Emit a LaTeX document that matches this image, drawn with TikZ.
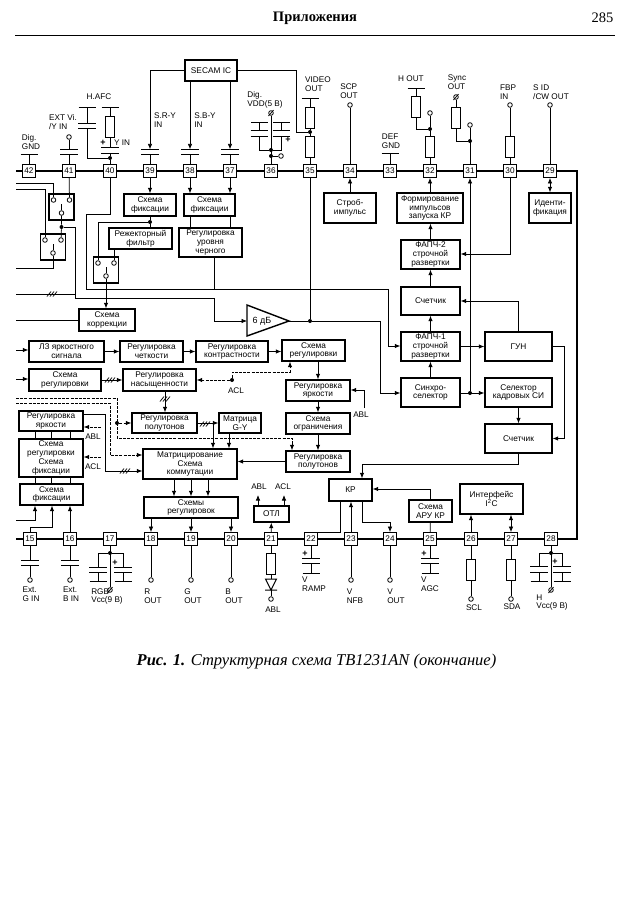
\documentclass[tikz,border=0pt]{standalone}
\usepackage{fontspec}
\setmainfont{Liberation Sans}
\newfontfamily\headfont{Liberation Serif}
\usetikzlibrary{arrows.meta}

% small parts: pairs of plates and bars sit on the wires
\newcommand\capv[3]{\node[capgap] (#1) at (#2,#3) {};
	\draw[plate] (#1.north west) -- (#1.north east) (#1.south west) -- (#1.south east);}
\newcommand\barh[3]{\coordinate (#1) at (#2,#3);
	\draw[plate] (#2-8.5,#3) -- (#2+8.5,#3);}
\newcommand\slashed[3]{\node[oc] (#1) at (#2,#3) {};
	\draw (#2-2.5,#3+3) -- (#2+2.5,#3-3);}
\newcommand\plusm[2]{\node[lbl,font=\fontsize{9}{9}\bfseries] at (#1,#2) {+};}
\newcommand\ticks[2]{\draw (#1-5,#2+2.5) -- (#1-1,#2-2.5) (#1-2,#2+2.5) -- (#1+2,#2-2.5) (#1+1,#2+2.5) -- (#1+5,#2-2.5);}
\newcommand\switchbox[3]{\node[blk,minimum width=25,minimum height=26] (#1) at (#2,#3) {};
	\node[oc] (#1l) at (#2-8,#3-7) {}; \node[oc] (#1r) at (#2+8,#3-7) {}; \node[oc] (#1m) at (#2,#3+6) {};
	\draw (#1m) -- ++(0,-9);}

\tikzset{
	blk/.style={draw,line width=1.4pt,inner sep=0pt,align=center,font=\fontsize{8.3}{8.9}\selectfont},
	pin/.style={draw,line width=.8pt,fill=white,inner sep=0pt,minimum size=13,font=\fontsize{8.2}{8}\selectfont},
	res/.style={draw,line width=.9pt,inner sep=0pt,minimum width=9,minimum height=21},
	capgap/.style={inner sep=0pt,minimum width=17,minimum height=4.5},
	plate/.style={line width=1pt},
	oc/.style={circle,draw,fill=white,inner sep=0pt,minimum size=4.6,line width=.8pt},
	jd/.style={circle,fill=black,inner sep=0pt,minimum size=4},
	lbl/.style={inner sep=0pt,align=left,font=\fontsize{8.2}{8.9}\selectfont},
	dsh/.style={dash pattern=on 3pt off 1.2pt,line width=.8pt},
}

\begin{document}
\begin{tikzpicture}[x=1pt,y=-1pt,line width=.75pt,>={Latex[length=5.5pt,width=4.5pt]}]
	\useasboundingbox (0,0) rectangle (628,919);

	% page head
	\node[font=\headfont\fontsize{14.5}{15}\bfseries\selectfont] (head) at (315,18) {Приложения};
	\node[font=\headfont\fontsize{14.5}{15}\selectfont] (pageno) at (602.5,18) {285};
	\coordinate (ruleL) at (15,35); \coordinate (ruleR) at (615,35);
	\draw[line width=1pt] (ruleL) -- (ruleR);

	% the two rows of pins, joined by the bus
	\coordinate (busTL) at (16,171); \coordinate (busTR) at (577,171);
	\coordinate (busBL) at (16,539); \coordinate (busBR) at (577,539);
	\draw[line width=1.4pt] (busTL) -- (busTR) -- (busBR) -- (busBL);
	\foreach \n/\x in {42/29,41/69,40/110,39/150,38/190,37/230,36/271,35/310,34/350,33/390,32/430,31/470,30/510,29/550}
		\node[pin] (p\n) at (\x,171) {\n};
	\foreach \n/\x in {15/30,16/70,17/110,18/151,19/191,20/231,21/271,22/311,23/351,24/390,25/430,26/471,27/511,28/551}
		\node[pin] (p\n) at (\x,539) {\n};

	% blocks, upper half
	\node[blk,minimum width=52,minimum height=21] (secam) at (211,70.5) {SECAM IC};
	\node[blk,minimum width=52,minimum height=22] (fixr) at (150,205) {Схема\\фиксации};
	\node[blk,minimum width=51,minimum height=22] (fixb) at (209.5,205) {Схема\\фиксации};
	\node[blk,minimum width=63,minimum height=21] (notch) at (140.5,238.5) {Режекторный\\фильтр};
	\node[blk,minimum width=63,minimum height=29] (black) at (210.5,242.5) {Регулировка\\уровня\\черного};
	\node[blk,minimum width=56,minimum height=22] (corr) at (107,320) {Схема\\коррекции};
	\node[blk,minimum width=52,minimum height=30] (strobe) at (350,208) {Строб-\\импульс};
	\node[blk,minimum width=66,minimum height=30] (former) at (430,208) {Формирование\\импульсов\\запуска КР};
	\node[blk,minimum width=42,minimum height=30] (ident) at (550,208) {Иденти-\\фикация};
	\node[blk,minimum width=59,minimum height=29] (pll2) at (430.5,254.5) {ФАПЧ-2\\строчной\\развертки};
	\node[blk,minimum width=59,minimum height=28] (cnth) at (430.5,301) {Счетчик};
	\node[blk,minimum width=59,minimum height=29] (pll1) at (430.5,346.5) {ФАПЧ-1\\строчной\\развертки};
	\node[blk,minimum width=67,minimum height=29] (vco) at (518.5,346.5) {ГУН};
	\node[blk,minimum width=59,minimum height=29] (sync) at (430.5,392.5) {Синхро-\\селектор};
	\node[blk,minimum width=67,minimum height=29] (vsel) at (518.5,392.5) {Селектор\\кадровых СИ};
	\node[blk,minimum width=67,minimum height=29] (cntv) at (518.5,438.5) {Счетчик};
	\draw[line width=1.4pt] (247,305) -- (289,321) -- (247,336) -- cycle;
	\coordinate (ampIn) at (247,321); \coordinate (ampOut) at (289,321);
	\node[font=\fontsize{9}{9}\selectfont] (ampLbl) at (262,321) {6 дБ};

	% blocks, luminance and matrix part
	\node[blk,minimum width=75,minimum height=21] (delay) at (66.5,351.5) {ЛЗ яркостного\\сигнала};
	\node[blk,minimum width=63,minimum height=21] (sharp) at (151.5,351.5) {Регулировка\\четкости};
	\node[blk,minimum width=72,minimum height=21] (contr) at (232,351.5) {Регулировка\\контрастности};
	\node[blk,minimum width=63,minimum height=21] (adj) at (313.5,350.5) {Схема\\регулировки};
	\node[blk,minimum width=72,minimum height=22] (adjl) at (65,380) {Схема\\регулировки};
	\node[blk,minimum width=73,minimum height=22] (sat) at (159.5,380) {Регулировка\\насыщенности};
	\node[blk,minimum width=64,minimum height=21] (bright) at (318,390.5) {Регулировка\\яркости};
	\node[blk,minimum width=64,minimum height=21] (limit) at (318,423.5) {Схема\\ограничения};
	\node[blk,minimum width=64,minimum height=21] (tone) at (318,461.5) {Регулировка\\полутонов};
	\node[blk,minimum width=65,minimum height=20] (tonem) at (164.5,423) {Регулировка\\полутонов};
	\node[blk,minimum width=42,minimum height=20] (gy) at (240,423) {Матрица\\G-Y};
	\node[blk,minimum width=94,minimum height=30] (matr) at (190,464) {Матрицирование\\Схема\\коммутации};
	\node[blk,minimum width=94,minimum height=21] (outs) at (191,507.5) {Схемы\\регулировок};
	\node[blk,minimum width=64,minimum height=20] (extb) at (51,421) {Регулировка\\яркости};
	\node[blk,minimum width=64,minimum height=38] (extc) at (51,458) {Схема\\регулировки\\Схема\\фиксации};
	\node[blk,minimum width=63,minimum height=21] (extf) at (51.5,494.5) {Схема\\фиксации};
	\node[blk,minimum width=35,minimum height=16] (otl) at (271.5,514) {ОТЛ};
	\node[blk,minimum width=43,minimum height=22] (kr) at (350.5,490) {КР};
	\node[blk,minimum width=43,minimum height=22] (agc) at (430.5,511) {Схема\\АРУ КР};
	\node[blk,minimum width=63,minimum height=30] (iface) at (491.5,499) {Интерфейс\\I$^{\mathrm{2}}$C};

	% input switches
	\switchbox{swa}{61.5}{207}
	\switchbox{swb}{53}{247}
	\switchbox{swc}{106}{270}

	% top row: outside parts
	\barh{b42}{29}{154} \draw (p42) -- (b42);
	\node[lbl] (t42) at (31,142) {Dig.\\GND};
	\capv{c41}{69}{152} \node[oc] (o41) at (69,137) {};
	\draw (p41) -- (c41.south) (c41.north) -- (o41);
	\node[lbl] (t41) at (63,122) {EXT Vi.\\/Y IN};
	\capv{c40}{110}{150.5} \node[res] (r40) at (110,126.5) {};
	\barh{b40}{110}{107} \draw (b40) -- (r40) -- (c40.north);
	\node[jd] (d40) at (110,158) {};
	\draw (p40) -- (d40) -- (c40.south);
	\capv{cafc}{87}{126} \barh{bafc}{87}{107}
	\draw (bafc) -- (cafc.north) (cafc.south) |- (d40);
	\node[lbl] (tafc) at (99,97) {H.AFC};
	\node[lbl] (ty) at (122,143) {Y IN}; \plusm{103}{143}
	\capv{c39}{150}{152} \capv{c38}{190}{152} \capv{c37}{230}{152}
	\foreach \n in {39,38,37} \draw (p\n) -- (c\n.south);
	\node[lbl] (tsr) at (165,120) {S.R-Y\\IN};
	\node[lbl] (tsb) at (205,120) {S.B-Y\\IN};
	\capv{cda}{259.5}{133.5} \capv{cdb}{281.5}{133.5}
	\barh{bda}{259.5}{122} \barh{bdb}{281.5}{122}
	\node[jd] (d36) at (271,150) {}; \node[jd] (e36) at (271,156) {};
	\slashed{o36}{271}{113}
	\node[oc] (q36) at (281,156) {};
	\draw (o36) -- (p36) (e36) -- (q36);
	\draw (bda) -- (cda.north) (cda.south) |- (d36) -| (cdb.south) (cdb.north) -- (bdb);
	\plusm{288}{140}
	\node[lbl] (t36) at (265,99.5) {Dig.\\VDD(5 В)};
	\node[res] (r35a) at (310,117.5) {}; \node[res] (r35b) at (310,147) {};
	\barh{b35}{310}{98}
	\node[jd] (d35) at (310,132) {};
	\draw (b35) -- (r35a) -- (d35) -- (r35b) -- (p35);
	\node[lbl] (t35) at (318,84) {VIDEO\\OUT};
	\node[oc] (o34) at (350,105) {}; \draw (o34) -- (p34);
	\node[lbl] (t34) at (349,91) {SCP\\OUT};
	\barh{b33}{390}{153} \draw (b33) -- (p33);
	\node[lbl] (t33) at (391,141) {DEF\\GND};
	\node[res] (r32a) at (416,106.5) {}; \node[res] (r32b) at (430,147) {};
	\barh{b32}{416}{88} \node[oc] (o32) at (430,113) {}; \node[jd] (d32) at (430,129) {};
	\draw (o32) -- (d32) -- (r32b) -- (p32) (d32) -| (r32a) (r32a) -- (b32);
	\node[lbl] (t32) at (411,79) {H OUT};
	\slashed{o31}{456}{97} \node[res] (r31) at (456,117.5) {};
	\node[oc] (q31) at (470,125) {}; \node[jd] (d31) at (470,141) {};
	\draw (o31) -- (r31) (r31) |- (d31) (q31) -- (p31);
	\node[lbl] (t31) at (457,82.5) {Sync\\OUT};
	\node[oc] (o30) at (510,105) {}; \node[res] (r30) at (510,147) {};
	\draw (o30) -- (r30) -- (p30);
	\node[lbl] (t30) at (508,92.5) {FBP\\IN};
	\node[oc] (o29) at (550,105) {}; \draw (o29) -- (p29);
	\node[lbl] (t29) at (551,92.5) {S ID\\/CW OUT};

	% bottom row: outside parts
	\foreach \n/\x in {15/30,16/70} {
		\capv{c\n}{\x}{563} \node[oc] (o\n) at (\x,580) {};
		\draw (p\n) -- (c\n.north) (c\n.south) -- (o\n);
	}
	\node[lbl] (t15) at (31,594.5) {Ext.\\G IN};
	\node[lbl] (t16) at (71,594.5) {Ext.\\B IN};
	\capv{ca17}{98}{570} \capv{cb17}{123}{570}
	\barh{ba17}{98}{581} \barh{bb17}{123}{581}
	\node[jd] (d17) at (110,553) {}; \slashed{o17}{110}{590}
	\draw (p17) -- (o17) (ca17.north) |- (d17) -| (cb17.north);
	\draw (ca17.south) -- (ba17) (cb17.south) -- (bb17);
	\plusm{115}{563}
	\node[lbl] (t17) at (107,596.5) {RGB\\Vcc(9 В)};
	\foreach \n/\x in {18/151,19/191,20/231,23/351,24/390} {
		\node[oc] (o\n) at (\x,580) {};
		\draw (p\n) -- (o\n);
	}
	\node[lbl] (t18) at (153,596.5) {R\\OUT};
	\node[lbl] (t19) at (193,596.5) {G\\OUT};
	\node[lbl] (t20) at (234,596.5) {B\\OUT};
	\node[res] (r21) at (271,563.5) {};
	\node[oc] (o21) at (271,599) {};
	\coordinate (dtop) at (271,579); \coordinate (dbot) at (271,590);
	\draw (p21) -- (r21) -- (dtop) (dbot) -- (o21);
	\draw[plate] (265.5,579) -- (276.5,579) -- (271,590) -- cycle (265,590) -- (277,590);
	\node[lbl] (t21) at (273,610) {ABL};
	\foreach \n/\x in {22/311,25/430} {
		\capv{c\n}{\x}{561} \barh{b\n}{\x}{573}
		\draw (p\n) -- (c\n.north) (c\n.south) -- (b\n);
		\plusm{\x-6}{554}
	}
	\node[lbl] (t22) at (314,584.5) {V\\RAMP};
	\node[lbl] (t23) at (355,596.5) {V\\NFB};
	\node[lbl] (t24) at (396,596.5) {V\\OUT};
	\node[lbl] (t25) at (430,584.5) {V\\AGC};
	\foreach \n/\x in {26/471,27/511} {
		\node[res] (r\n) at (\x,569.5) {}; \node[oc] (o\n) at (\x,599) {};
		\draw (p\n) -- (r\n) -- (o\n);
	}
	\node[lbl] (t26) at (474,608) {SCL};
	\node[lbl] (t27) at (512,607) {SDA};
	\capv{ca28}{539}{569.5} \capv{cb28}{562}{569.5}
	\barh{ba28}{539}{581} \barh{bb28}{562}{581}
	\node[jd] (d28) at (551,553) {}; \slashed{o28}{551}{590}
	\draw (p28) -- (o28) (ca28.north) |- (d28) -| (cb28.north);
	\draw (ca28.south) -- (ba28) (cb28.south) -- (bb28);
	\plusm{555}{562}
	\node[lbl] (t28) at (552,602.5) {H\\Vcc(9 В)};

	% SECAM lines
	\draw[->] (secam.west) -| (c39.north);
	\draw[->] (secam.south -| c38) -- (c38.north);
	\draw[->] (secam.south -| c37) -- (c37.north);
	\draw (secam.east) -| (296,132) -- (d35);

	% clamps and switches
	\draw[->] (p39) -- (fixr);
	\draw[->] (p38) -- (fixb.north -| p38);
	\draw[->] (p37) -- (fixb.north -| p37);
	\draw (fixb.south -| p38) -- (black.north -| p38) (fixb.south -| p37) -- (black.north -| p37);
	\node[jd] (dfix) at (150,222) {};
	\draw (fixr.south) -- (dfix) -- (notch.north -| dfix);
	\draw (dfix) -| (swcl);
	\draw (swcr) -- (notch.south -| swcr);
	\draw[->] (swcm) -- (corr.north -| swcm);
	\coordinate (ina) at (16,183); \coordinate (inb) at (16,189); \coordinate (inc) at (16,268);
	\draw (ina) -| (swal);
	\draw (inb) -| (swbl);
	\draw (p41) -- (swar);
	\node[jd] (dsw) at (61.5,227) {};
	\draw (swam) -- (dsw) -- (swbr);
	\draw (swbm) |- (inc);
	\coordinate (amid) at (75,298);
	\coordinate (ind) at (16,294);
	\draw (ind) -- (75,294);
	\ticks{52}{294}
	\draw (dsw) -| (amid) -| (214,321);
	\draw[->] (214,321) -- (ampIn);
	\coordinate (line40) at (86,289);
	\draw (p40) |- (86,214) -- (line40) -| (388,346);
	\draw[->] (388,346) -- (pll1.west |- 388,346);
	\draw (black.south -| 214,0) -- (214,289);
	\coordinate (inf) at (16,320);
	\draw (inf) -- (corr.west);

	% video output to sync selector
	\node[jd] (dvid) at (310,321) {};
	\draw (p35) -- (dvid) -- (ampOut);
	\draw (dvid) -| (380,393);
	\draw[->] (380,393) -- (sync.west |- 380,393);

	% deflection chain
	\draw[->] (strobe) -- (p34);
	\draw[->] (former) -- (p32);
	\draw[->] (pll2) -- (former.south -| pll2);
	\draw[->] (cnth) -- (pll2);
	\draw[->] (pll1) -- (cnth);
	\draw[->] (sync) -- (pll1);
	\draw[<->] (p29) -- (ident);
	\node[jd] (dsync) at (470,393) {};
	\draw[->] (dsync) -- (p31);
	\draw[->] (sync.east |- dsync) -- (vsel.west |- dsync);
	\draw[->] (p30) |- (pll2.east |- 510,254);
	\draw[->] (vco.north) |- (cnth.east |- 518,301);
	\draw[->] (pll1) -- (vco);
	\draw[->] (vsel) -- (cntv);
	\draw[->] (vco.east) -- ++(12,0) |- (cntv.east);
	\draw[->] (cntv.south) |- (362,464) -- (kr.north -| 362,464);
	\draw[->] (agc.north) |- (kr.east |- 430,489);
	\draw (kr.south -| 340,0) |- (p22.north -| 311,522) -- (p22);
	\draw[->] (p23) -- (kr.south -| p23);
	\draw[->] (kr.south -| 362,0) |- (390,522) -- (p24);
	\draw (agc) -- (p25);
	\draw[->] (p26) -- (iface.south -| p26);
	\draw[<->] (p27) -- (iface.south -| p27);

	% luminance path
	\coordinate (ing) at (16,350); \coordinate (inh) at (16,379);
	\draw[->] (ing) -- (delay.west |- ing);
	\draw[->] (delay) -- (sharp);
	\draw[->] (sharp) -- (contr);
	\draw[->] (contr) -- (adj.west |- contr);
	\draw[->] (inh) -- (adjl.west |- inh);
	\draw[->] (adjl) -- (sat);
	\ticks{110}{380}
	\draw[->] (sat.south -| 165,0) -- (tonem.north -| 165,0);
	\ticks{165}{399}
	\node[jd] (dacl) at (232,380) {};
	\draw[->,dsh] (dacl) -- (sat.east |- dacl);
	\draw[->,dsh] (dacl) |- (290,372) -- (adj.south -| 290,0);
	\node[lbl] (tacl) at (236,391) {ACL};
	\draw[->] (adj.south -| 318,0) -- (bright.north -| 318,0);
	\draw[->] (bright) -- (limit);
	\draw[->] (limit) -- (tone);
	\draw[->] (364,408) |- (bright.east |- 364,390);
	\node[lbl] (tabl) at (361,415) {ABL};

	% dashed feeds from the left
	\coordinate (inj) at (16,398); \coordinate (ink) at (16,403);
	\draw[dsh] (inj) -| (117,438) -| (292,444);
	\draw[->,dsh] (292,444) -- (tone.north -| 292,444);
	\node[jd] (dtone) at (117,423) {};
	\draw[->,dsh] (dtone) -- (tonem.west |- dtone);
	\draw[->,dsh] (ink) -| (110,455) -- (matr.west |- 110,455);
	\draw (extb.east |- 83,414) -| (105,471);
	\draw[->] (105,471) -- (matr.west |- 105,471);
	\ticks{125}{471}
	\draw[->] (tonem.east |- gy) -- (gy.west);
	\ticks{205}{424}
	\draw[->] (213,423) -- (matr.north -| 213,0);
	\draw[->] (gy.south -| 229,0) -- (matr.north -| 229,0);
	\draw[->] (tone.west) -- (matr.east |- tone);
	\foreach \x in {174,191,208} \draw[->] (matr.south -| \x,0) -- (outs.north -| \x,0);
	\foreach \n in {18,19,20} \draw[->] (outs.south -| p\n) -- (p\n);
	\draw[->] (p21) -- (otl);
	\coordinate (oa) at (258,495); \coordinate (ob) at (284,495);
	\draw[->] (otl.north -| oa) -- (oa);
	\draw[->] (otl.north -| ob) -- (ob);
	\node[lbl] (toa) at (259,487) {ABL};
	\node[lbl] (tob) at (283,487) {ACL};

	% external RGB column
	\foreach \x in {35,51,70} {
		\draw (extb.south -| \x,0) -- (extc.north -| \x,0);
		\draw (extc.south -| \x,0) -- (extf.north -| \x,0);
	}
	\draw[->,dsh] (101,427) -- (extb.east |- 101,427);
	\draw[->,dsh] (101,457) -- (extc.east |- 101,457);
	\node[lbl] (tablb) at (93,437) {ABL};
	\node[lbl] (taclb) at (93,467) {ACL};
	\coordinate (inm) at (16,520);
	\draw[->] (inm) -| (extf.south -| 35,0);
	\draw[->] (p15) |- (52,527) -- (extf.south -| 52,0);
	\draw[->] (p16) -- (extf.south -| p16);

	% caption
	\node[font=\headfont\fontsize{16.5}{17}\selectfont] (caption) at (316.5,662) {\textbf{\textit{Рис. 1.}} \textit{Структурная схема TB1231AN (окончание)}};
\end{tikzpicture}
\end{document}
